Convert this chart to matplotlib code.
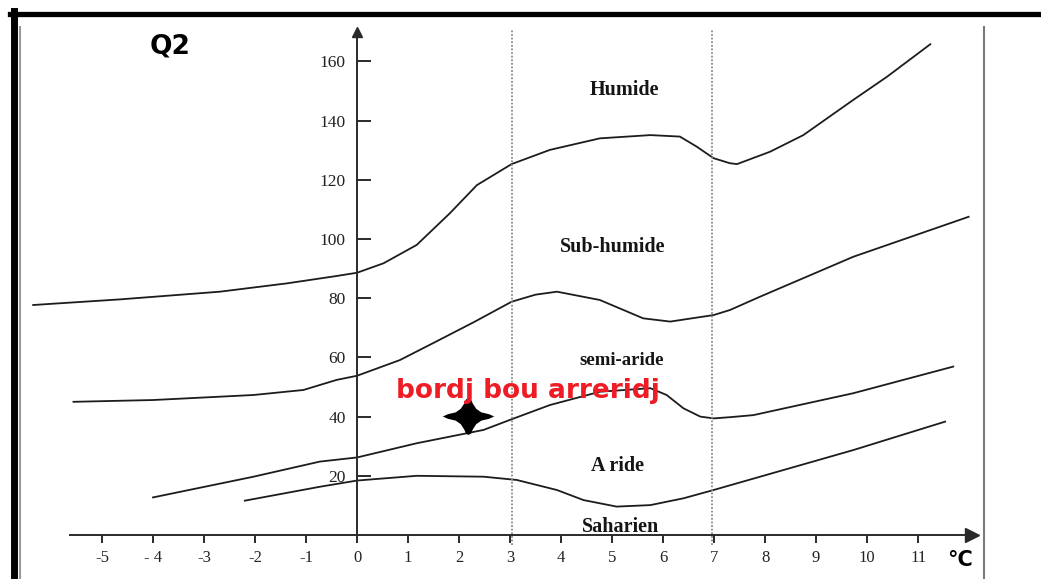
import matplotlib.pyplot as plt
from matplotlib.path import Path
from matplotlib.lines import Line2D

# Climagramme d'Emberger : Q2 en fonction de m (°C)
humide_x = [-6.35, -4.65, -2.69, -1.38, -0.4, 0.0, 0.52, 1.17, 1.82, 2.35, 3.03, 3.78,
            4.76, 5.75, 6.33, 6.66, 6.99, 7.31, 7.45, 8.1, 8.75, 9.73, 10.39, 11.24]
humide_y = [77.7, 79.6, 82.2, 85.0, 87.5, 88.6, 91.8, 98.0, 108.7, 118.2, 125.3, 130.1,
            134.0, 135.1, 134.6, 131.2, 127.3, 125.6, 125.3, 129.5, 135.1, 147.0, 154.8, 165.8]

subhumide_x = [-5.56, -4.0, -2.03, -1.05, -0.4, 0.0, 0.84, 1.5, 2.3, 3.03, 3.5, 3.92,
               4.76, 5.61, 6.14, 6.99, 7.31, 7.9, 9.73, 11.99]
subhumide_y = [45.0, 45.6, 47.3, 49.0, 52.4, 53.8, 59.1, 64.9, 72.0, 78.8, 81.2, 82.2,
               79.4, 73.2, 72.1, 74.3, 76.0, 80.5, 94.0, 107.5]

semiaride_x = [-4.0, -2.03, -0.73, 0.0, 1.17, 2.48, 3.03, 3.78, 4.76, 5.75, 6.07, 6.4,
               6.73, 6.99, 7.31, 7.77, 9.73, 11.69]
semiaride_y = [12.7, 19.7, 24.8, 26.2, 31.0, 35.5, 39.1, 43.9, 48.4, 49.6, 47.3, 42.8,
               40.0, 39.4, 39.8, 40.5, 47.9, 56.9]

aride_x = [-2.2, -0.73, 0.0, 1.17, 2.48, 3.13, 3.92, 4.44, 5.09, 5.75, 6.4, 6.99, 9.73, 11.53]
aride_y = [11.6, 16.3, 18.4, 20.0, 19.7, 18.6, 15.2, 11.8, 9.6, 10.1, 12.4, 15.2, 28.7, 38.3]

x_ticks = [-5, -4, -3, -2, -1, 0, 1, 2, 3, 4, 5, 6, 7, 8, 9, 10, 11]
x_labels = ["-5", "- 4", "-3", "-2", "-1", "0", "1", "2", "3", "4", "5", "6", "7", "8", "9", "10", "11"]
y_ticks = [20, 40, 60, 80, 100, 120, 140, 160]
limits_m = [3.03, 6.95]

zones = ["Humide", "Sub-humide", "semi-aride", "A ride", "Saharien"]
zone_x = [5.25, 5.02, 5.18, 5.1, 5.16]
zone_y = [150.3, 97.3, 58.8, 23.3, 2.6]
zone_size = [14.5, 14.5, 13.5, 14.5, 14.5]

station = "bordj bou arreridj"
station_m = 2.18
station_q2 = 40.2

serif = "Liberation Serif"
curve_color = "#1c1c1c"

fig = plt.figure(figsize=(10.41, 5.79), dpi=100)
ax = fig.add_axes([0, 0, 1, 1])
ax.set_xlim(-7.0, 13.41)
ax.set_ylim(-14.86, 180.74)

for xs, ys in [(humide_x, humide_y), (subhumide_x, subhumide_y),
               (semiaride_x, semiaride_y), (aride_x, aride_y)]:
    ax.plot(xs, ys, color=curve_color, lw=1.3, solid_joinstyle="round")

for m in limits_m:
    ax.plot([m, m], [-3.5, 171], color="#8a8a8a", lw=1.3, ls=(0, (1, 1)))

# axes en croix passant par l'origine
for side in ["top", "right"]:
    ax.spines[side].set_visible(False)
ax.spines["left"].set_position(("data", 0))
ax.spines["bottom"].set_position(("data", 0))
ax.spines["left"].set_bounds(0, 169)
ax.spines["bottom"].set_bounds(-5.63, 11.9)
for side in ["left", "bottom"]:
    ax.spines[side].set_color("#2a2a2a")
    ax.spines[side].set_linewidth(1.4)
ax.plot([12.05], [0], marker=">", ms=10, color="#2a2a2a", clip_on=False)
ax.plot([0], [170], marker="^", ms=7, color="#2a2a2a", clip_on=False)

ax.set_xticks(x_ticks, labels=x_labels)
ax.set_yticks(y_ticks)
ax.tick_params(axis="x", direction="out", length=6, width=1.4, color="#2a2a2a",
               pad=5, labelsize=12, labelcolor="#222")
ax.tick_params(axis="y", direction="in", length=10, width=1.4, color="#2a2a2a",
               pad=8, labelsize=12.5, labelcolor="#222")
for lab in ax.get_xticklabels() + ax.get_yticklabels():
    lab.set_fontfamily(serif)

for name, zx, zy, zs in zip(zones, zone_x, zone_y, zone_size):
    ax.text(zx, zy, name, ha="center", va="center", fontsize=zs,
            fontfamily=serif, fontweight="bold", color="#151515")

ax.text(-3.67, 164.9, "Q2", ha="center", va="center", fontsize=19,
        fontfamily="DejaVu Sans", fontweight="bold", color="black")
ax.text(11.82, -8.4, "°C", ha="center", va="center", fontsize=15,
        fontfamily="DejaVu Sans", fontweight="bold", color="black")

# station
star = Path([(1, 0), (0.8, 0.09), (0.5, 0.16), (0.3, 0.3), (0.17, 0.5), (0.1, 0.66),
             (0, 0.72), (-0.1, 0.66), (-0.17, 0.5), (-0.3, 0.3), (-0.5, 0.16), (-0.8, 0.09),
             (-1, 0), (-0.8, -0.09), (-0.5, -0.16), (-0.3, -0.3), (-0.17, -0.5), (-0.1, -0.66),
             (0, -0.72), (0.1, -0.66), (0.17, -0.5), (0.3, -0.3), (0.5, -0.16), (0.8, -0.09),
             (1, 0)])
ax.plot([station_m], [station_q2], marker=star, ms=37, color="black", mew=0)
ax.text(3.35, 46.4, station, ha="center", va="baseline", fontsize=19,
        fontfamily="DejaVu Sans", fontweight="bold", color="#ee1c24")

# cadre de la figure scannée
fig.add_artist(Line2D([10 / 1041, 1], [1 - 13.5 / 579] * 2, color="black", lw=3.8,
                      transform=fig.transFigure))
fig.add_artist(Line2D([13.5 / 1041] * 2, [0, 1 - 11 / 579], color="black", lw=5,
                      transform=fig.transFigure))
fig.add_artist(Line2D([20 / 1041] * 2, [0, 1 - 27 / 579], color="#9a9a9a", lw=1.5,
                      transform=fig.transFigure))
fig.add_artist(Line2D([984 / 1041] * 2, [0, 1 - 27 / 579], color="#7a7a7a", lw=1.5,
                      transform=fig.transFigure))

fig.savefig("out.png", dpi=100)
